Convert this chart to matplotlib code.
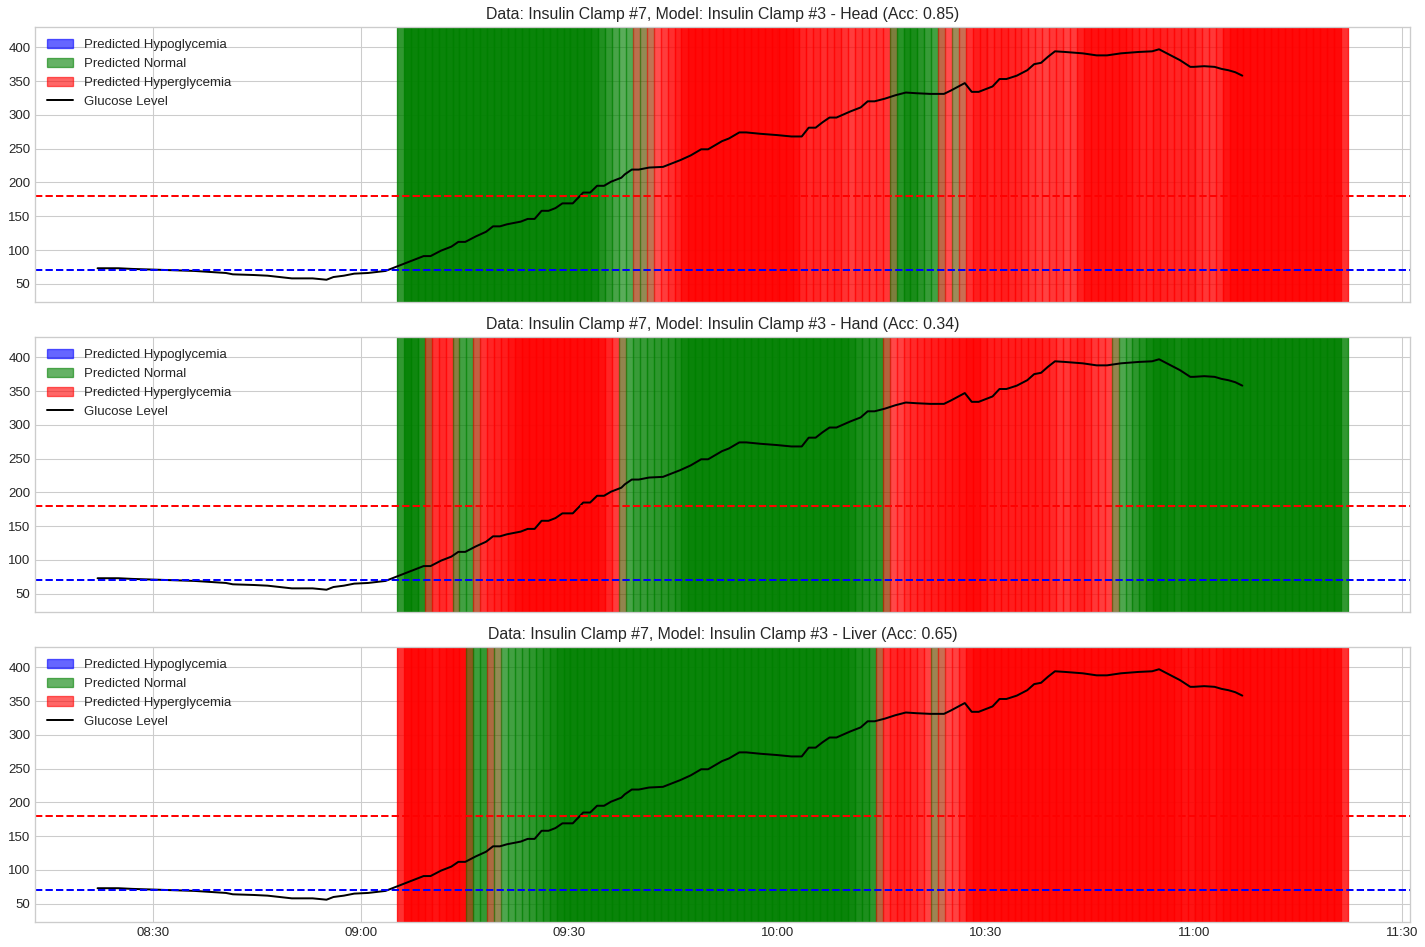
import matplotlib
matplotlib.use("Agg")
import matplotlib.pyplot as plt
import matplotlib.dates as mdates
from matplotlib.patches import Patch
from matplotlib.lines import Line2D
import pandas as pd

plt.style.use("seaborn-v0_8-whitegrid")

DAY = "2024-01-01 "

# glucose trace (mg/dL)
glucose_times = [
    "08:22:00", "08:25:00", "08:27:00", "08:30:00", "08:33:00", "08:36:00", "08:39:00",
    "08:40:30", "08:41:30", "08:44:30", "08:46:30", "08:50:00", "08:53:00", "08:54:00",
    "08:55:00", "08:56:00", "08:57:30", "08:59:00", "09:01:00", "09:03:30", "09:05:00",
    "09:06:00", "09:07:30", "09:09:00", "09:10:00", "09:11:30", "09:13:00", "09:14:00",
    "09:15:00", "09:16:30", "09:18:00", "09:19:00", "09:20:00", "09:21:00", "09:23:00",
    "09:24:00", "09:25:00", "09:26:00", "09:27:00", "09:28:00", "09:29:00", "09:30:30",
    "09:32:00", "09:33:00", "09:34:00", "09:35:00", "09:36:00", "09:37:30", "09:38:00",
    "09:39:00", "09:40:00", "09:41:30", "09:43:30", "09:44:30", "09:46:00", "09:47:30",
    "09:49:00", "09:50:00", "09:52:00", "09:53:00", "09:54:30", "09:55:30", "09:57:30",
    "10:00:00", "10:02:00", "10:03:30", "10:04:30", "10:05:30", "10:06:30", "10:07:30",
    "10:08:30", "10:10:30", "10:12:00", "10:13:00", "10:14:00", "10:15:30", "10:17:00",
    "10:18:30", "10:20:00", "10:22:00", "10:24:00", "10:25:00", "10:27:00", "10:28:00",
    "10:29:00", "10:31:00", "10:32:00", "10:33:00", "10:34:30", "10:36:00", "10:37:00",
    "10:38:00", "10:39:00", "10:40:00", "10:41:30", "10:44:00", "10:46:00", "10:47:30",
    "10:49:30", "10:52:00", "10:54:00", "10:55:00", "10:56:30", "10:58:00", "10:59:30",
    "11:00:00", "11:01:30", "11:03:00", "11:04:00", "11:05:00", "11:06:00", "11:07:00",
]
glucose_values = [
    73, 73, 72, 71, 70, 69, 67,
    66, 64, 63, 62, 58, 58, 57,
    56, 60, 62, 65, 66, 69, 75,
    79, 85, 91, 91, 99, 105, 112,
    112, 120, 127, 135, 135, 138, 142,
    146, 146, 158, 158, 162, 169, 169,
    185, 185, 195, 195, 201, 207, 212,
    219, 219, 222, 223, 227, 233, 240,
    249, 249, 261, 265, 274, 274, 272,
    270, 268, 268, 281, 281, 289, 296,
    296, 305, 311, 320, 320, 324, 329,
    333, 332, 331, 331, 336, 347, 334,
    334, 342, 353, 353, 358, 366, 375,
    377, 386, 394, 393, 391, 388, 388,
    391, 393, 394, 397, 389, 381, 371,
    371, 372, 371, 368, 366, 363, 358,
]

# prediction windows: one every minute, two minutes long
window_start = "09:05:10"
window_length_min = 2

# predicted class runs per model (N = normal, H = hyperglycemia)
head_runs = [("N", 34), ("H", 1), ("N", 1), ("H", 35), ("N", 7), ("H", 2), ("N", 1), ("H", 55)]
hand_runs = [("N", 4), ("H", 4), ("N", 3), ("H", 21), ("N", 38), ("H", 33), ("N", 33)]
liver_runs = [("H", 10), ("N", 3), ("H", 1), ("N", 55), ("H", 8), ("N", 1), ("H", 58)]

# prediction confidence per window (%)
head_conf = [
    95, 95, 95, 95, 95, 95, 95, 95, 95, 95,
    95, 95, 95, 95, 95, 95, 95, 95, 95, 95,
    95, 95, 95, 95, 95, 95, 95, 95, 80, 70,
    60, 50, 45, 55, 50, 50, 50, 55, 65, 70,
    80, 95, 95, 95, 95, 95, 95, 95, 95, 95,
    95, 95, 95, 95, 95, 95, 95, 80, 65, 75,
    70, 65, 75, 70, 60, 60, 70, 60, 65, 65,
    60, 60, 80, 85, 75, 65, 60, 55, 55, 50,
    45, 55, 75, 80, 75, 70, 80, 75, 70, 75,
    60, 65, 55, 60, 65, 60, 55, 65, 85, 90,
    85, 90, 85, 90, 85, 80, 75, 70, 75, 80,
    70, 75, 70, 75, 70, 65, 60, 65, 70, 95,
    95, 95, 95, 95, 95, 95, 95, 95, 95, 95,
    95, 95, 95, 95, 95, 95,
]
hand_conf = [
    95, 95, 80, 70, 60, 70, 70, 60, 55, 60,
    55, 60, 70, 75, 75, 80, 90, 95, 95, 95,
    95, 95, 95, 95, 95, 95, 95, 95, 95, 80,
    65, 55, 50, 60, 65, 60, 70, 65, 75, 70,
    85, 95, 95, 95, 95, 95, 95, 95, 95, 95,
    95, 95, 95, 95, 95, 95, 95, 95, 95, 95,
    95, 95, 95, 95, 95, 80, 80, 70, 75, 65,
    55, 55, 60, 70, 70, 75, 75, 80, 80, 85,
    85, 90, 95, 90, 75, 80, 75, 80, 75, 80,
    75, 80, 75, 75, 65, 60, 65, 75, 75, 65,
    60, 60, 55, 50, 55, 60, 75, 75, 95, 95,
    95, 85, 85, 95, 95, 95, 95, 95, 95, 95,
    95, 95, 95, 95, 95, 95, 95, 95, 95, 95,
    95, 95, 95, 95, 95, 95,
]
liver_conf = [
    95, 95, 95, 95, 85, 85, 95, 95, 95, 90,
    55, 65, 65, 50, 50, 55, 60, 60, 65, 70,
    75, 80, 90, 95, 95, 95, 95, 95, 95, 95,
    95, 95, 95, 95, 95, 95, 95, 95, 95, 95,
    95, 95, 95, 95, 95, 95, 95, 95, 95, 95,
    95, 95, 95, 95, 95, 95, 95, 95, 95, 95,
    95, 95, 95, 95, 95, 80, 80, 75, 60, 55,
    70, 75, 75, 70, 70, 60, 55, 45, 55, 55,
    60, 75, 95, 95, 95, 95, 95, 95, 95, 95,
    95, 95, 95, 95, 95, 95, 95, 95, 95, 95,
    95, 95, 95, 95, 95, 95, 95, 95, 95, 95,
    95, 95, 85, 85, 85, 95, 85, 85, 95, 95,
    95, 95, 95, 95, 95, 95, 95, 95, 95, 95,
    95, 95, 95, 95, 95, 95,
]

models = ["Head", "Hand", "Liver"]
accuracies = [0.85, 0.34, 0.65]
runs = [head_runs, hand_runs, liver_runs]
confs = [head_conf, hand_conf, liver_conf]

hypo_threshold = 70
hyper_threshold = 180

class_colors = {"L": "blue", "N": "green", "H": "red"}

times = pd.to_datetime([DAY + t for t in glucose_times])

fig, axes = plt.subplots(3, 1, figsize=(15, 947 / 95), sharex=True)
fig.subplots_adjust(left=0.0246, right=0.9895, top=0.9715, bottom=0.0264, hspace=0.127)

for ax, model, acc, model_runs, conf in zip(axes, models, accuracies, runs, confs):
    labels = [lab for lab, n in model_runs for _ in range(n)]
    starts = pd.date_range(DAY + window_start, periods=len(labels), freq="1min")
    width = pd.Timedelta(minutes=window_length_min)

    ax.plot(times, glucose_values, color="black", lw=1.5)
    for lab, st, c in zip(labels, starts, conf):
        ax.axvspan(mdates.date2num(st), mdates.date2num(st + width),
                   color=class_colors[lab], alpha=0.85 * c / 100)

    ax.axhline(hyper_threshold, color="red", linestyle="--", lw=1.5)
    ax.axhline(hypo_threshold, color="blue", linestyle="--", lw=1.5)
    ax.set_ylim(23, 430)
    ax.set_title(f"Data: Insulin Clamp #7, Model: Insulin Clamp #3 - {model} (Acc: {acc:.2f})",
                 fontsize=12)

    handles = [
        Patch(color="blue", alpha=0.6, label="Predicted Hypoglycemia"),
        Patch(color="green", alpha=0.6, label="Predicted Normal"),
        Patch(color="red", alpha=0.6, label="Predicted Hyperglycemia"),
        Line2D([], [], color="black", lw=1.5, label="Glucose Level"),
    ]
    ax.legend(handles=handles, loc="upper left")

axes[-1].xaxis.set_major_locator(mdates.MinuteLocator(byminute=[0, 30]))
axes[-1].xaxis.set_major_formatter(mdates.DateFormatter("%H:%M"))

fig.savefig("out.png", dpi=95)
